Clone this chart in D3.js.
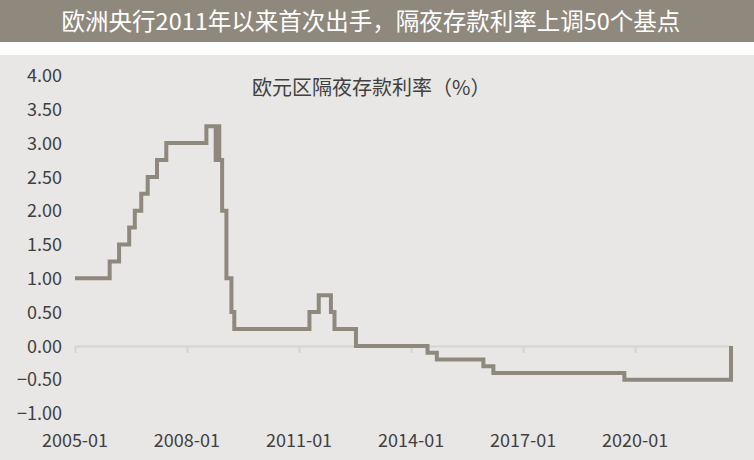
<!DOCTYPE html>
<html><head><meta charset="utf-8">
<script src="https://cdn.jsdelivr.net/npm/d3@7"></script>
<style>
html,body{margin:0;padding:0;background:#fff;}
svg{display:block;}
</style></head>
<body>
<svg id="chart" width="754" height="460"></svg>
<script>
const title = "欧洲央行2011年以来首次出手，隔夜存款利率上调50个基点";
const seriesName = "欧元区隔夜存款利率（%）";
// change dates of the ECB deposit facility rate (value holds until next date)
const dates = ["2005-01-01","2005-12-06","2006-03-08","2006-06-15","2006-08-09","2006-10-11","2006-12-13",
  "2007-03-14","2007-06-13","2008-07-09","2008-10-08","2008-10-09","2008-11-12","2008-12-10",
  "2009-01-21","2009-03-11","2009-04-08","2011-04-13","2011-07-13","2011-11-09","2011-12-14",
  "2012-07-11","2014-06-11","2014-09-10","2015-12-09","2016-03-16","2019-09-18","2022-07-27"];
const rates = [1.00,1.25,1.50,1.75,2.00,2.25,2.50,
  2.75,3.00,3.25,2.75,3.25,2.75,2.00,
  1.00,0.50,0.25,0.50,0.75,0.50,0.25,
  0.00,-0.10,-0.20,-0.30,-0.40,-0.50,0.00];
const yTicks = [4,3.5,3,2.5,2,1.5,1,0.5,0,-0.5,-1];
const xTickDates = ["2005-01-01","2008-01-01","2011-01-01","2014-01-01","2017-01-01","2020-01-01"];

const parse = d3.timeParse("%Y-%m-%d");
const data = dates.map((d,i)=>({date:parse(d), v:rates[i]}));

const svg = d3.select("#chart");
const W = 754, H = 460;
const font = "'Noto Sans CJK SC','Noto Sans',sans-serif";

// title band
svg.append("rect").attr("x",0).attr("y",0).attr("width",W).attr("height",42).attr("fill","#8f887d");
svg.append("text").attr("x",371).attr("y",20).attr("text-anchor","middle").attr("dominant-baseline","central")
  .attr("fill","#ffffff").style("font-family",font).style("font-size","23.5px").text(title);
// plot background
svg.append("rect").attr("x",0).attr("y",55).attr("width",W).attr("height",H-55).attr("fill","#e8e7e5");

const x = d3.scaleTime().domain([parse("2005-01-01"), parse("2022-07-27")]).range([75, 731]);
const y = d3.scaleLinear().domain([-1, 4]).range([413.5, 75.5]);

// x axis at zero
const xAxis = d3.axisBottom(x).tickValues(xTickDates.map(parse)).tickFormat(d3.timeFormat("%Y-%m"))
  .tickSize(7).tickSizeOuter(0);
const gx = svg.append("g").attr("transform",`translate(0,${y(0)})`).call(xAxis);
gx.select(".domain").attr("stroke","#d6d4d1").attr("stroke-width",2);
gx.selectAll(".tick line").attr("stroke","#d6d4d1").attr("stroke-width",2);
gx.selectAll(".tick text").remove();

// x labels at the bottom
svg.append("g").selectAll("text").data(xTickDates.map(parse)).join("text")
  .attr("x",d=>x(d)).attr("y",439).attr("text-anchor","middle").attr("dominant-baseline","central")
  .attr("fill","#404040").style("font-family",font).style("font-size","18px")
  .text(d3.timeFormat("%Y-%m"));

// y labels
const yAxis = d3.axisLeft(y).tickValues(yTicks).tickFormat(d3.format(".2f")).tickSize(0).tickPadding(0);
const gy = svg.append("g").attr("transform","translate(62,0)").call(yAxis);
gy.select(".domain").remove();
gy.selectAll(".tick text").attr("fill","#404040").style("font-family",font).style("font-size","18px")
  .attr("dy","0.34em");

// line
const line = d3.line().x(d=>x(d.date)).y(d=>y(d.v)).curve(d3.curveStepAfter);
svg.append("path").datum(data).attr("d",line).attr("fill","none")
  .attr("stroke","#8f887c").attr("stroke-width",4).attr("stroke-linejoin","miter");

// legend / series label
svg.append("text").attr("x",252).attr("y",86).attr("dominant-baseline","central")
  .attr("fill","#404040").style("font-family",font).style("font-size","20px").text(seriesName);
</script>
</body></html>
